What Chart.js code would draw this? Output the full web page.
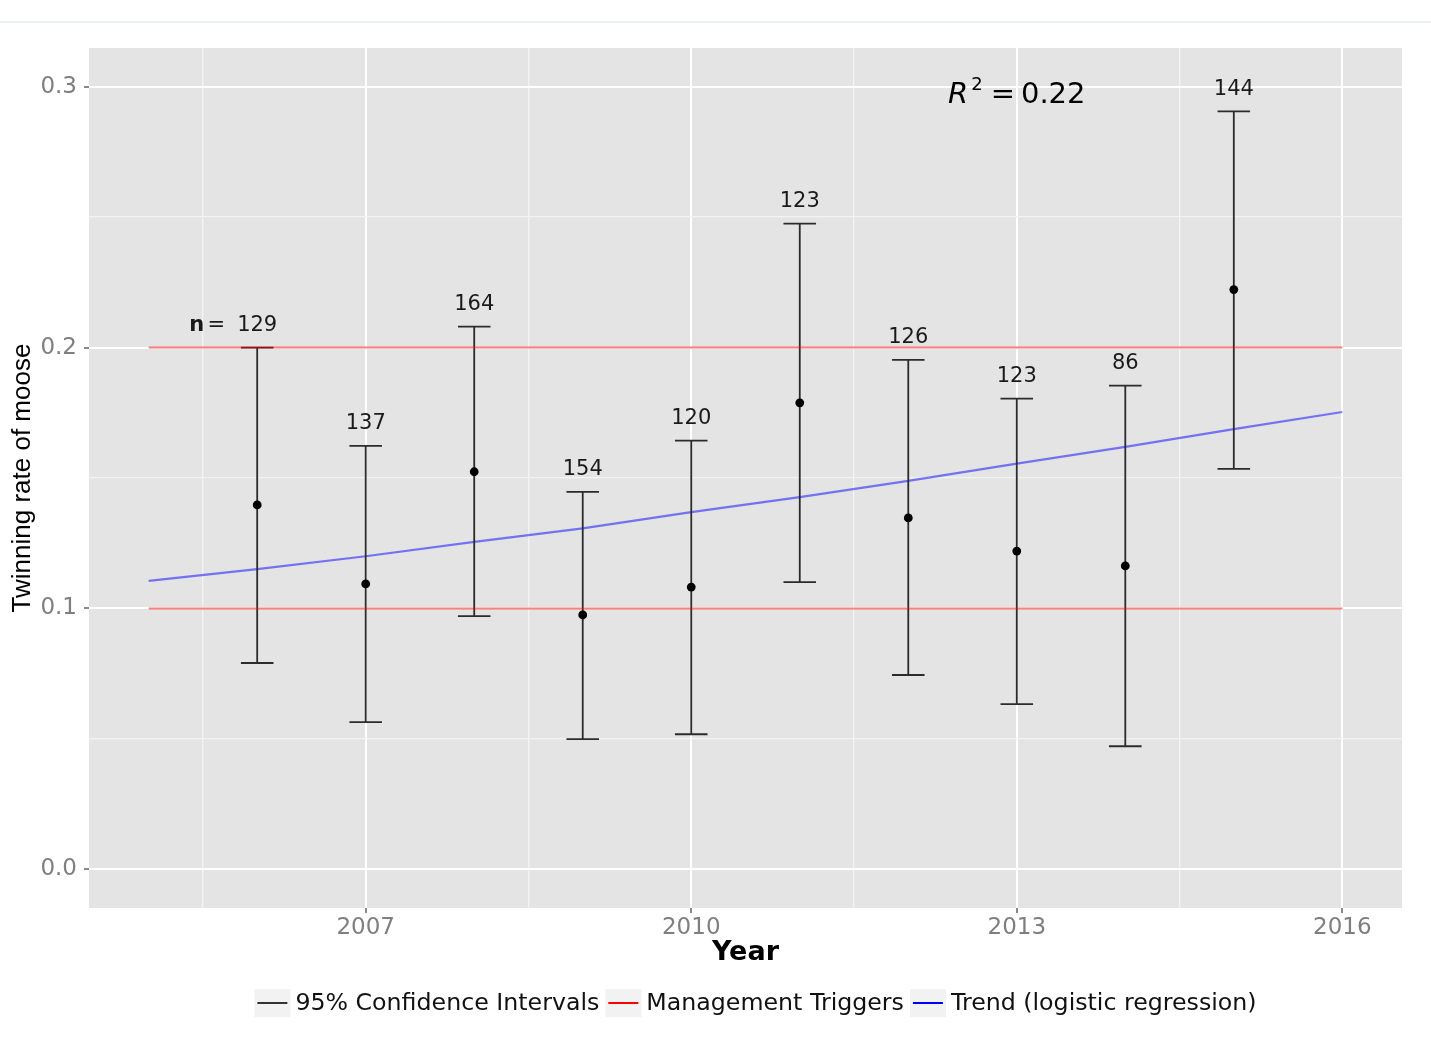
<!DOCTYPE html>
<html>
<head>
<meta charset="utf-8">
<script src="https://cdn.jsdelivr.net/npm/chart.js@4.4.1/dist/chart.umd.min.js"></script>
<style>
  html, body { margin: 0; padding: 0; background: #fff; }
  #wrap { position: relative; width: 1431px; height: 1050px; }
  #topline { position: absolute; left: 0; top: 21px; width: 1431px; height: 2px; background: #edf1f7; }
  canvas { position: absolute; left: 0; top: 0; }
</style>
</head>
<body>
<div id="wrap">
  <div id="topline"></div>
  <canvas id="moose" width="1431" height="1050"></canvas>
</div>
<script>
// survey years and estimated twinning rate with 95% CI
const years = [2006, 2007, 2008, 2009, 2010, 2011, 2012, 2013, 2014, 2015]
const twinRate = [0.1397, 0.1094, 0.1524, 0.0975, 0.1082, 0.1788, 0.1347, 0.1220, 0.1163, 0.2222]
const ciLower = [0.0791, 0.0564, 0.0971, 0.0499, 0.0518, 0.1101, 0.0745, 0.0633, 0.0472, 0.1535]
const ciUpper = [0.2000, 0.1623, 0.2080, 0.1447, 0.1643, 0.2475, 0.1953, 0.1804, 0.1854, 0.2905]
const sampleSize = [129, 137, 164, 154, 120, 123, 126, 123, 86, 144]

// logistic regression trend
const trendYears = [2005, 2006, 2007, 2008, 2009, 2010, 2011, 2012, 2013, 2014, 2015, 2016]
const trendRate = [0.1106, 0.1151, 0.1200, 0.1255, 0.1307, 0.1369, 0.1427, 0.1489, 0.1555, 0.1619, 0.1687, 0.1753]

// management triggers
const triggerYears = [2005, 2016]
const triggerLevels = [0.1, 0.2]

const xTickLabels = [2007, 2010, 2013, 2016]
const xMinorTicks = [2005.5, 2008.5, 2011.5, 2014.5]
const yTickLabels = [0.0, 0.1, 0.2, 0.3]
const yMinorTicks = [0.05, 0.15, 0.25]
const rSquared = "0.22"

const legendLabels = ["95% Confidence Intervals", "Management Triggers", "Trend (logistic regression)"]
const legendColors = ["#333333", "#ff0000", "#0000ff"]

const isMajor = (list, v) => list.some(t => Math.abs(t - v) < 1e-6)

// grey ggplot panel
const panelBg = {
  id: "panelBg",
  beforeDraw(chart) {
    const { ctx, chartArea: a } = chart
    ctx.save()
    ctx.fillStyle = "#e4e4e4"
    ctx.fillRect(a.left, a.top, a.right - a.left, a.bottom - a.top)
    ctx.restore()
  },
}

// error bars, drawn right after the trend line so the red lines sit above them
const errorBars = {
  id: "errorBars",
  afterDatasetDraw(chart, args) {
    if (args.index !== 3) return
    const { ctx, scales } = chart
    ctx.save()
    ctx.strokeStyle = "#2b2b2b"
    ctx.lineWidth = 1.8
    years.forEach((yr, i) => {
      const x = scales.x.getPixelForValue(yr)
      const x0 = scales.x.getPixelForValue(yr - 0.15)
      const x1 = scales.x.getPixelForValue(yr + 0.15)
      const yl = scales.y.getPixelForValue(ciLower[i])
      const yu = scales.y.getPixelForValue(ciUpper[i])
      ctx.beginPath()
      ctx.moveTo(x, yl); ctx.lineTo(x, yu)
      ctx.moveTo(x0, yl); ctx.lineTo(x1, yl)
      ctx.moveTo(x0, yu); ctx.lineTo(x1, yu)
      ctx.stroke()
    })
    ctx.restore()
  },
}

// sample sizes, R^2 and the legend
const annotations = {
  id: "annotations",
  afterDraw(chart) {
    const { ctx, scales, chartArea } = chart
    ctx.save()
    ctx.fillStyle = "#1a1a1a"
    ctx.textBaseline = "middle"
    ctx.font = "21px 'DejaVu Sans'"
    years.forEach((yr, i) => {
      const x = scales.x.getPixelForValue(yr)
      const y = scales.y.getPixelForValue(ciUpper[i]) - 22
      const txt = String(sampleSize[i])
      ctx.textAlign = "center"
      ctx.fillText(txt, x, y)
      if (i === 0) {
        const w = ctx.measureText(txt).width
        ctx.textAlign = "right"
        ctx.fillText("=", x - w / 2 - 12, y)
        ctx.font = "bold 21px 'DejaVu Sans'"
        ctx.fillText("n", x - w / 2 - 33, y)
        ctx.font = "21px 'DejaVu Sans'"
      }
    })

    // R^2 = 0.22
    ctx.fillStyle = "#000"
    ctx.textBaseline = "alphabetic"
    ctx.textAlign = "left"
    const base = scales.y.getPixelForValue(0.3) + 16
    const fR = "italic 29px 'DejaVu Sans'", f2 = "18px 'DejaVu Sans'", fN = "29px 'DejaVu Sans'"
    ctx.font = fR; const wR = ctx.measureText("R").width
    ctx.font = f2; const w2 = ctx.measureText("2").width
    ctx.font = fN; const wEq = ctx.measureText("=").width; const wV = ctx.measureText(rSquared).width
    const total = wR + 3 + w2 + 8 + wEq + 6 + wV
    let rx = scales.x.getPixelForValue(2013) - total / 2
    ctx.font = fR; ctx.fillText("R", rx, base); rx += wR + 3
    ctx.font = f2; ctx.fillText("2", rx, base - 13); rx += w2 + 8
    ctx.font = fN; ctx.fillText("=", rx, base); rx += wEq + 6
    ctx.fillText(rSquared, rx, base)

    // legend
    ctx.font = "23.7px 'DejaVu Sans'"
    const boxW = 36, boxH = 28, gapText = 5, gapItem = 6
    const widths = legendLabels.map(t => ctx.measureText(t).width)
    const full = widths.reduce((s, w) => s + boxW + gapText + w, 0) + gapItem * (legendLabels.length - 1)
    let lx = (chartArea.left + chartArea.right) / 2 + 10 - full / 2
    const cy = chartArea.bottom + 95
    legendLabels.forEach((t, i) => {
      ctx.fillStyle = "#f2f2f2"
      ctx.fillRect(lx, cy - boxH / 2, boxW, boxH)
      ctx.strokeStyle = legendColors[i]
      ctx.lineWidth = 2
      ctx.beginPath()
      ctx.moveTo(lx + 3, cy); ctx.lineTo(lx + boxW - 3, cy)
      ctx.stroke()
      ctx.fillStyle = "#111"
      ctx.textBaseline = "middle"
      ctx.fillText(t, lx + boxW + gapText, cy + 1)
      lx += boxW + gapText + widths[i] + gapItem
    })
    ctx.restore()
  },
}

new Chart(document.getElementById("moose"), {
  type: "scatter",
  data: {
    datasets: [
      {
        label: "Twinning rate",
        data: years.map((yr, i) => ({ x: yr, y: twinRate[i] })),
        backgroundColor: "#000",
        pointRadius: 4.4,
        pointBorderWidth: 0,
        order: 1,
      },
      {
        label: "Management Triggers",
        type: "line",
        data: triggerYears.map(x => ({ x: x, y: triggerLevels[0] })),
        borderColor: "rgba(255,0,0,0.5)",
        borderWidth: 2,
        pointRadius: 0,
        order: 2,
      },
      {
        label: "Management Triggers",
        type: "line",
        data: triggerYears.map(x => ({ x: x, y: triggerLevels[1] })),
        borderColor: "rgba(255,0,0,0.5)",
        borderWidth: 2,
        pointRadius: 0,
        order: 3,
      },
      {
        label: "Trend (logistic regression)",
        type: "line",
        data: trendYears.map((x, i) => ({ x: x, y: trendRate[i] })),
        borderColor: "rgba(0,0,255,0.5)",
        borderWidth: 2.2,
        pointRadius: 0,
        tension: 0,
        order: 4,
      },
    ],
  },
  options: {
    responsive: false,
    animation: false,
    devicePixelRatio: 1,
    layout: { padding: { top: 48, right: 29, bottom: 67, left: 0 } },
    plugins: { legend: { display: false }, tooltip: { enabled: false } },
    scales: {
      x: {
        type: "linear",
        min: 2004.45,
        max: 2016.55,
        afterBuildTicks: s => {
          s.ticks = [...xMinorTicks, ...xTickLabels].sort((a, b) => a - b).map(v => ({ value: v }))
        },
        afterFit: s => { s.height = 75 },
        border: { display: false },
        grid: {
          color: c => isMajor(xTickLabels, c.tick.value) ? "#ffffff" : "#f3f3f3",
          lineWidth: c => isMajor(xTickLabels, c.tick.value) ? 2 : 1.3,
          tickColor: c => isMajor(xTickLabels, c.tick.value) ? "#8a8a8a" : "rgba(0,0,0,0)",
          tickLength: 5,
          tickWidth: 2,
        },
        ticks: {
          autoSkip: false,
          maxRotation: 0,
          padding: 4,
          color: "#7f7f7f",
          font: { family: "DejaVu Sans", size: 23, lineHeight: 1 },
          callback: v => isMajor(xTickLabels, v) ? String(v) : "",
        },
        title: {
          display: true,
          text: "Year",
          color: "#000",
          font: { family: "DejaVu Sans", size: 27, weight: "bold", lineHeight: 1 },
          padding: { top: 0, bottom: 17 },
        },
      },
      y: {
        min: -0.0148,
        max: 0.3148,
        afterBuildTicks: s => {
          s.ticks = [...yMinorTicks, ...yTickLabels].sort((a, b) => a - b).map(v => ({ value: v }))
        },
        afterFit: s => { s.width = 89 },
        border: { display: false },
        grid: {
          color: c => isMajor(yTickLabels, c.tick.value) ? "#ffffff" : "#f3f3f3",
          lineWidth: c => isMajor(yTickLabels, c.tick.value) ? 2 : 1.3,
          tickColor: c => isMajor(yTickLabels, c.tick.value) ? "#8a8a8a" : "rgba(0,0,0,0)",
          tickLength: 5,
          tickWidth: 2,
        },
        ticks: {
          autoSkip: false,
          padding: 7,
          color: "#7f7f7f",
          font: { family: "DejaVu Sans", size: 23, lineHeight: 1 },
          callback: v => isMajor(yTickLabels, v) ? v.toFixed(1) : "",
        },
        title: {
          display: true,
          text: "Twinning rate of moose",
          color: "#000",
          font: { family: "Liberation Sans", size: 26, lineHeight: 1 },
          padding: { top: 10, bottom: 0 },
        },
      },
    },
  },
  plugins: [panelBg, errorBars, annotations],
})
</script>
</body>
</html>
